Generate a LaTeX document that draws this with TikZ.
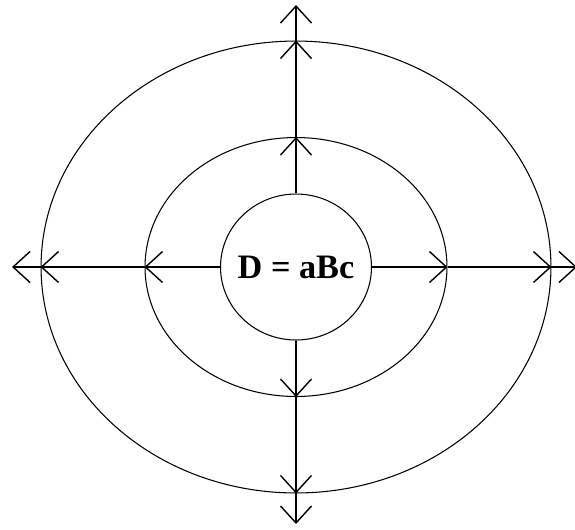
\documentclass[tikz,border=0pt]{standalone}
\usepackage{fontspec}
\setmainfont{Liberation Serif}
\usetikzlibrary{shapes.geometric,arrows.meta,positioning}

\begin{document}
\begin{tikzpicture}[
    x=0.02cm, y=-0.02cm,
    ring/.style={ellipse, draw, line width=0.6pt, inner sep=0pt},
    arrow/.style={line width=0.8pt, -{Straight Barb[length=0.34cm, width=0.62cm]}}
]
\useasboundingbox (0,0) rectangle (575,529);

% rings
\node[ring, minimum width=10.2cm, minimum height=9.04cm] (outer) at (296,267) {};
\node[ring, minimum width=6.04cm, minimum height=5.18cm] (middle) at (296,267) {};
\node[ring, minimum width=3.02cm, minimum height=2.92cm] (inner) at (296,267) {};
\node[font=\fontsize{19.5}{22}\selectfont\bfseries] (formula) at (inner.center) {D = aBc};

% free ends
\coordinate (top) at (296,5);
\coordinate (bottom) at (296,524);
\coordinate (left) at (12,267);
\coordinate (right) at (577,267);

% up
\draw[arrow] (inner.north) -- (middle.north);
\draw[arrow] (middle.north) -- (outer.north);
\draw[arrow] (outer.north) -- (top);

% down
\draw[arrow] (inner.south) -- (middle.south);
\draw[arrow] (middle.south) -- (outer.south);
\draw[arrow] (outer.south) -- (bottom);

% left
\draw[arrow] (inner.west) -- (middle.west);
\draw[arrow] (middle.west) -- (outer.west);
\draw[arrow] (outer.west) -- (left);

% right
\draw[arrow] (inner.east) -- (middle.east);
\draw[arrow] (middle.east) -- (outer.east);
\draw[arrow] (outer.east) -- (right);

\end{tikzpicture}
\end{document}
